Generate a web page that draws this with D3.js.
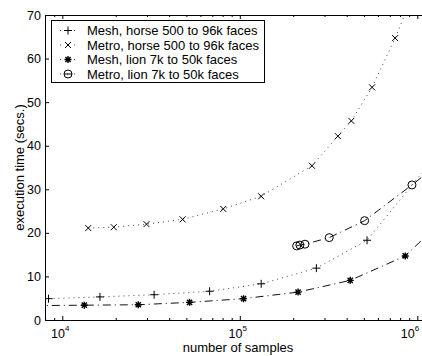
<!DOCTYPE html>
<html>
<head>
<meta charset="utf-8">
<script src="https://cdn.jsdelivr.net/npm/d3@7"></script>
<style>
  body { margin: 0; background: #fff; }
  svg { display: block; font-family: "Liberation Sans", Arial, sans-serif; }
</style>
</head>
<body>
<div id="chart"></div>
<script>
// Chart data (samples vs seconds)
const MESH_HORSE_X = [8360, 16300, 32900, 67600, 132000, 270000, 521000, 1200000];
const MESH_HORSE_Y = [4.9, 5.3, 5.8, 6.6, 8.3, 11.9, 18.3, 36.4];

const METRO_HORSE_X = [14000, 19500, 29800, 47600, 80700, 132000, 255000, 357000, 425000, 556000, 750000, 1000000];
const METRO_HORSE_Y = [21.1, 21.3, 22.0, 23.1, 25.5, 28.4, 35.4, 42.2, 45.7, 53.4, 64.7, 77];

const MESH_LION_X = [7000, 13300, 26800, 52100, 105000, 213000, 419000, 855000, 1200000];
const MESH_LION_Y = [3.3, 3.4, 3.5, 4.05, 4.9, 6.4, 9.1, 14.7, 20.4];

const METRO_LION_X = [209000, 218000, 233000, 319000, 505000, 933000, 1200000];
const METRO_LION_Y = [17.0, 17.2, 17.4, 18.9, 22.8, 31.0, 34.5];

const LEGEND_LABELS = ["Mesh, horse 500 to 96k faces", "Metro, horse 500 to 96k faces",
                       "Mesh, lion 7k to 50k faces", "Metro, lion 7k to 50k faces"];
const Y_TICKS = [0, 10, 20, 30, 40, 50, 60, 70];
const X_MAJOR = [1e4, 1e5, 1e6];
const X_EXP = [4, 5, 6];

// Frame
const FRAME_WIDTH = 422;
const FRAME_HEIGHT = 356;
const PLOT = {left: 45, right: 431, top: 15, bottom: 320};

const SVG = d3.select("#chart")
              .append("svg")
                .attr("width", FRAME_WIDTH)
                .attr("height", FRAME_HEIGHT);

const X_SCALE = d3.scaleLog()
                  .domain([7990, 10 ** (6 + 13.7 / 177.5)])
                  .range([PLOT.left, PLOT.right]);

const Y_SCALE = d3.scaleLinear()
                  .domain([0, 70])
                  .range([PLOT.bottom, PLOT.top]);

// minor ticks 2..9 per decade
let minors = [];
[1e3, 1e4, 1e5, 1e6].forEach((d) => {
  for (let k = 2; k <= 9; k++) {
    let v = d * k;
    if (v > X_SCALE.domain()[0] && v < X_SCALE.domain()[1]) minors.push(v);
  }
});

SVG.append("clipPath").attr("id", "plotclip")
   .append("rect")
     .attr("x", PLOT.left).attr("y", PLOT.top)
     .attr("width", PLOT.right - PLOT.left)
     .attr("height", PLOT.bottom - PLOT.top);

// Series
const SERIES = [
  {xs: MESH_HORSE_X, ys: MESH_HORSE_Y, dash: "1,4", marker: "plus"},
  {xs: METRO_HORSE_X, ys: METRO_HORSE_Y, dash: "1,4", marker: "cross"},
  {xs: MESH_LION_X, ys: MESH_LION_Y, dash: "8,4,1,4", marker: "star"},
  {xs: METRO_LION_X, ys: METRO_LION_Y, dash: "8,4,1,4", marker: "circle"}
];

function markerPath(type) {
  if (type == "plus") return "M-4,0H4M0,-4V4";
  if (type == "cross") return "M-3,-3L3,3M-3,3L3,-3";
  if (type == "star") return "M-3.5,0H3.5M0,-3.5V3.5M-2.6,-2.6L2.6,2.6M-2.6,2.6L2.6,-2.6";
  return "M4,0A4,4 0 1,1 -4,0A4,4 0 1,1 4,0";
}

const LINE = d3.line()
               .x((d) => X_SCALE(d[0]))
               .y((d) => Y_SCALE(d[1]));

const PLOT_G = SVG.append("g").attr("clip-path", "url(#plotclip)");

SERIES.forEach((s) => {
  let pts = s.xs.map((x, i) => [x, s.ys[i]]);

  PLOT_G.append("path")
        .datum(pts)
        .attr("d", LINE)
        .attr("fill", "none")
        .attr("stroke", s.dash == "1,4" ? "#444" : "#111")
        .attr("stroke-width", 1)
        .attr("stroke-dasharray", s.dash);

  PLOT_G.selectAll(null)
        .data(pts)
        .enter()
        .append("path")
          .attr("transform", (d) => "translate(" + X_SCALE(d[0]) + "," + Y_SCALE(d[1]) + ")")
          .attr("d", markerPath(s.marker))
          .attr("fill", "none")
          .attr("stroke", "#000")
          .attr("stroke-width", s.marker == "star" ? 1.4 : 1);
});

// Axes
SVG.append("g")
   .attr("transform", "translate(0," + PLOT.bottom + ")")
   .call(d3.axisBottom(X_SCALE).tickValues(X_MAJOR).tickSize(-4).tickSizeOuter(0).tickFormat(""));
SVG.append("g")
   .attr("transform", "translate(0," + PLOT.bottom + ")")
   .call(d3.axisBottom(X_SCALE).tickValues(minors).tickSize(-2).tickSizeOuter(0).tickFormat(""));

SVG.append("g")
   .attr("transform", "translate(0," + PLOT.top + ")")
   .call(d3.axisTop(X_SCALE).tickValues(X_MAJOR).tickSize(-4).tickSizeOuter(0).tickFormat(""));
SVG.append("g")
   .attr("transform", "translate(0," + PLOT.top + ")")
   .call(d3.axisTop(X_SCALE).tickValues(minors).tickSize(-2).tickSizeOuter(0).tickFormat(""));

SVG.append("g")
   .attr("transform", "translate(" + PLOT.left + ",0)")
   .call(d3.axisLeft(Y_SCALE).tickValues(Y_TICKS).tickSize(-4).tickSizeOuter(0).tickPadding(4))
   .selectAll("text")
     .attr("font-size", "12.5px")
     .attr("fill", "#000");

SVG.selectAll(".domain, .tick line").attr("stroke", "#000");

// x tick labels like 10^4 (last one kept inside the frame)
X_MAJOR.forEach((v, i) => {
  let cx = Math.min(X_SCALE(v) - 2, FRAME_WIDTH - 12);
  let t = SVG.append("text")
             .attr("x", cx)
             .attr("y", 338)
             .attr("text-anchor", "middle")
             .attr("font-size", "12.5px");
  t.append("tspan").text("10");
  t.append("tspan").attr("dy", -7).attr("font-size", "8px").text(X_EXP[i]);
});

// Axis titles
SVG.append("text")
   .attr("x", (PLOT.left + PLOT.right) / 2)
   .attr("y", 352)
   .attr("text-anchor", "middle")
   .attr("font-size", "13px")
   .text("number of samples");

SVG.append("text")
   .attr("transform", "translate(24," + (PLOT.top + PLOT.bottom) / 2 + ") rotate(-90)")
   .attr("text-anchor", "middle")
   .attr("font-size", "13px")
   .text("execution time (secs.)");

// Legend
const LEG = SVG.append("g");
LEG.append("rect")
   .attr("x", 51.5).attr("y", 20.5)
   .attr("width", 213).attr("height", 62)
   .attr("fill", "#fff")
   .attr("stroke", "#000");

LEGEND_LABELS.forEach((lab, i) => {
  let cy = 30.5 + i * 14.5;
  LEG.append("line")
     .attr("x1", 60).attr("x2", 77)
     .attr("y1", cy).attr("y2", cy)
     .attr("stroke", "#444")
     .attr("stroke-dasharray", "1,6");
  LEG.append("path")
     .attr("transform", "translate(68," + cy + ")")
     .attr("d", markerPath(SERIES[i].marker))
     .attr("fill", "none")
     .attr("stroke", "#000")
     .attr("stroke-width", SERIES[i].marker == "star" ? 1.4 : 1);
  if (SERIES[i].marker == "circle") {
    LEG.append("line")
       .attr("x1", 64).attr("x2", 72)
       .attr("y1", cy).attr("y2", cy)
       .attr("stroke", "#000");
  }
  LEG.append("text")
     .attr("x", 87)
     .attr("y", cy)
     .attr("dy", "0.36em")
     .attr("font-size", "13px")
     .text(lab);
});
</script>
</body>
</html>
